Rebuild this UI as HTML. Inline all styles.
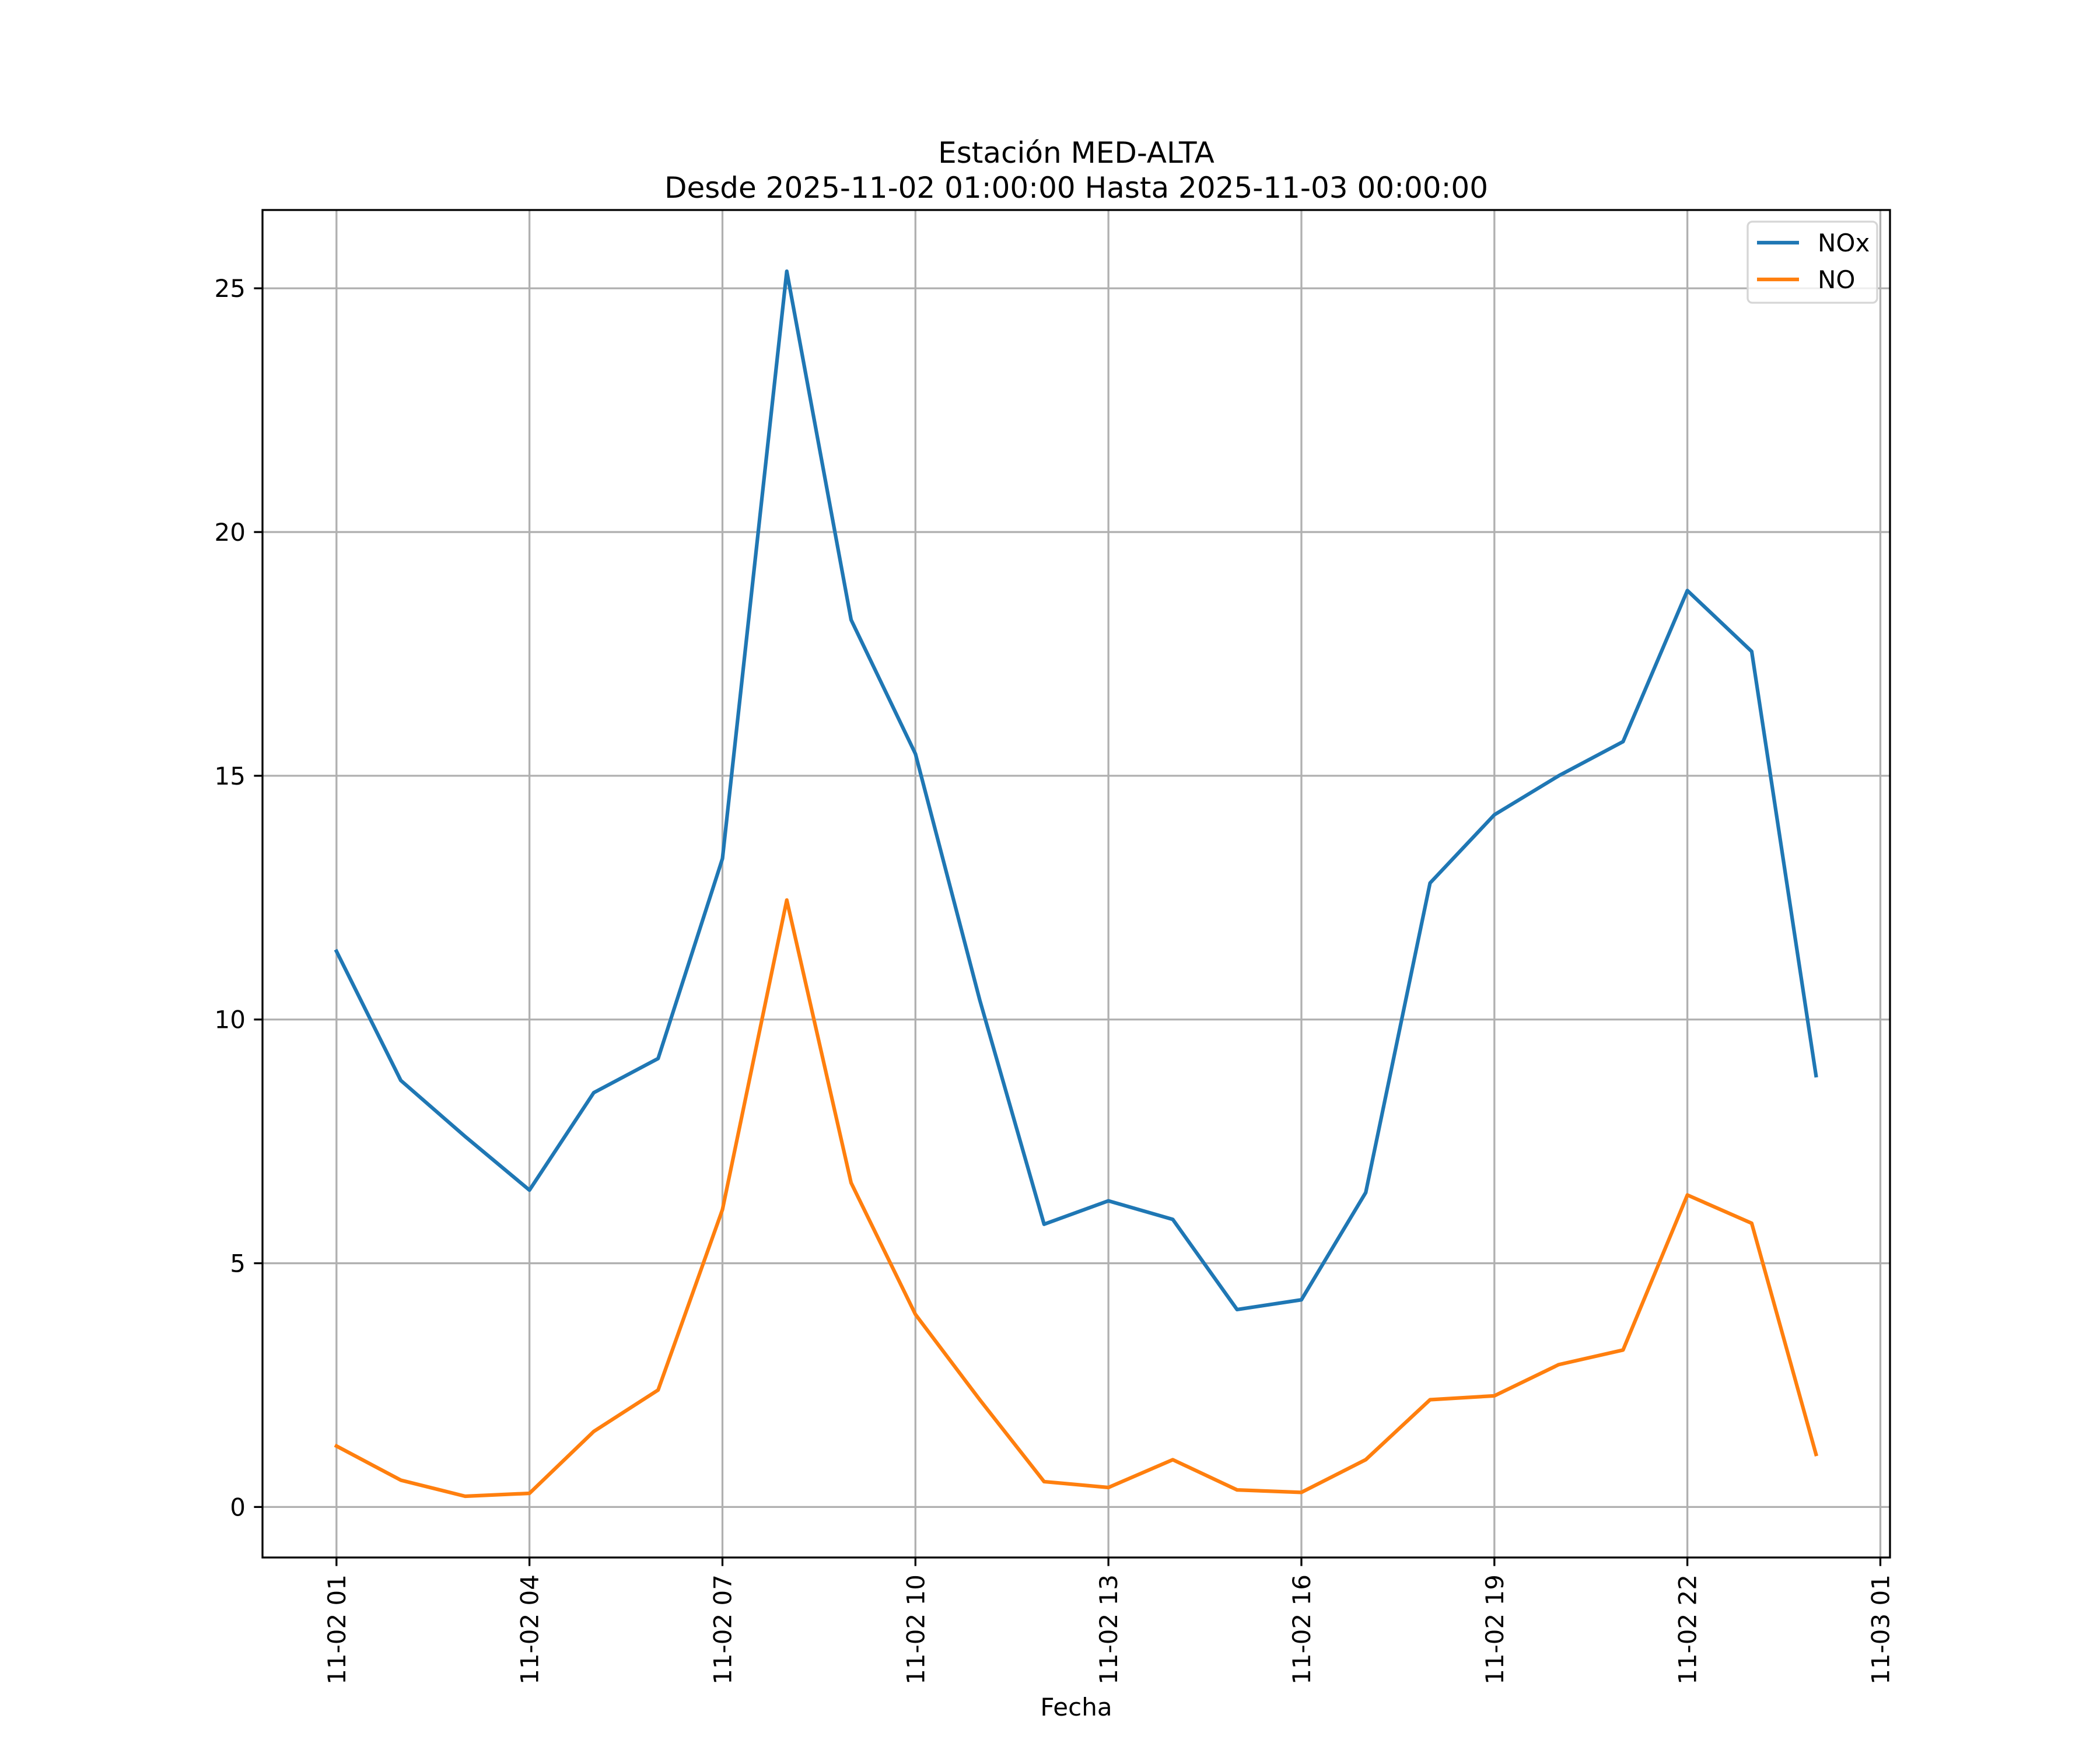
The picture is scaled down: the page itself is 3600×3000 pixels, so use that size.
<!DOCTYPE html>
<html><head><meta charset="utf-8"><style>
html,body{margin:0;padding:0;background:#fff}
svg{display:block;font-family:"DejaVu Sans","Liberation Sans",sans-serif}
</style></head><body>
<svg id="chart" width="3600" height="3000" viewBox="0 0 3600 3000" xmlns="http://www.w3.org/2000/svg">
<rect width="3600" height="3000" fill="#fff"/>
<g id="grid"></g>
<g id="series"></g>
<g id="axes"></g>
<text x="1845" y="279" font-size="50" text-anchor="middle">Estación MED-ALTA</text>
<text x="1845" y="339" font-size="50" text-anchor="middle">Desde 2025-11-02 01:00:00 Hasta 2025-11-03 00:00:00</text>
<text x="1845" y="2941" font-size="42" text-anchor="middle">Fecha</text>
<g>
<rect x="2996" y="380" width="222" height="139" rx="8" fill="#fff" fill-opacity="0.8" stroke="#d6d6d6" stroke-width="3.3"/>
<line x1="3012" y1="416" x2="3084" y2="416" stroke="#1f77b4" stroke-width="6.25"/>
<text x="3116" y="431" font-size="42">NOx</text>
<line x1="3012" y1="479" x2="3084" y2="479" stroke="#ff7f0e" stroke-width="6.25"/>
<text x="3116" y="494" font-size="42">NO</text>
</g>
</svg>
<script>
const hours = [1,2,3,4,5,6,7,8,9,10,11,12,13,14,15,16,17,18,19,20,21,22,23,24];
const noxValues = [11.4,8.75,7.6,6.5,8.5,9.2,13.3,25.35,18.2,15.45,10.4,5.8,6.28,5.9,4.05,4.25,6.45,12.8,14.2,15.0,15.7,18.8,17.55,8.85];
const noValues = [1.25,0.55,0.22,0.28,1.55,2.4,6.1,12.45,6.65,3.95,2.2,0.52,0.4,0.97,0.35,0.3,0.97,2.2,2.28,2.92,3.22,6.4,5.82,1.08];
const xTickHours = [1,4,7,10,13,16,19,22,25];
const xTickLabels = ["11-02 01","11-02 04","11-02 07","11-02 10","11-02 13","11-02 16","11-02 19","11-02 22","11-03 01"];
const yTicks = [0,5,10,15,20,25];

const L=450,R=3240,T=360,B=2670;
const allV = noxValues.concat(noValues);
const vmin=Math.min(...allV), vmax=Math.max(...allV), vr=vmax-vmin;
const y0=vmin-0.05*vr, y1=vmax+0.05*vr;
const hmin=Math.min(...hours), hmax=Math.max(...hours), hr=hmax-hmin;
const x0=hmin-0.05*hr, x1=hmax+0.05*hr;
const sx=h=>L+(h-x0)/(x1-x0)*(R-L);
const sy=v=>B-(v-y0)/(y1-y0)*(B-T);
const NS="http://www.w3.org/2000/svg";
function mk(tag,attrs,parent){const e=document.createElementNS(NS,tag);for(const k in attrs)e.setAttribute(k,attrs[k]);parent.appendChild(e);return e;}
const grid=document.getElementById('grid'),axes=document.getElementById('axes'),series=document.getElementById('series');
xTickHours.forEach((h,i)=>{
  const x=sx(h);
  const g=mk('line',{x1:x,y1:T,x2:x,y2:B,stroke:'#b0b0b0','stroke-width':3.3},grid);
  
  
  const t=mk('line',{x1:x,y1:B,x2:x,y2:B+14.6,stroke:'#000','stroke-width':3.3},axes);
  
  
  const lb=mk('text',{x:0,y:0,'font-size':42,'text-anchor':'end',transform:`translate(${x+15},${B+29}) rotate(-90)`},axes);
  lb.textContent=xTickLabels[i];
  
  
});
yTicks.forEach(v=>{
  const y=sy(v);
  const g=mk('line',{x1:L,y1:y,x2:R,y2:y,stroke:'#b0b0b0','stroke-width':3.3},grid);
  
  
  const t=mk('line',{x1:L-14.6,y1:y,x2:L,y2:y,stroke:'#000','stroke-width':3.3},axes);
  
  
  const lb=mk('text',{x:L-29,y:y+15,'font-size':42,'text-anchor':'end'},axes);
  lb.textContent=String(v);
  
  
});
function line(vals,color,name){
  const p=mk('polyline',{points:hours.map((h,i)=>sx(h)+','+sy(vals[i])).join(' '),fill:'none',stroke:color,'stroke-width':6.25,'stroke-linejoin':'round','stroke-linecap':'square'},series);
  
  
}
line(noxValues,'#1f77b4','nox-line');
line(noValues,'#ff7f0e','no-line');
const fr=mk('rect',{x:L,y:T,width:R-L,height:B-T,fill:'none',stroke:'#000','stroke-width':3.3},axes);


</script>
</body></html>
